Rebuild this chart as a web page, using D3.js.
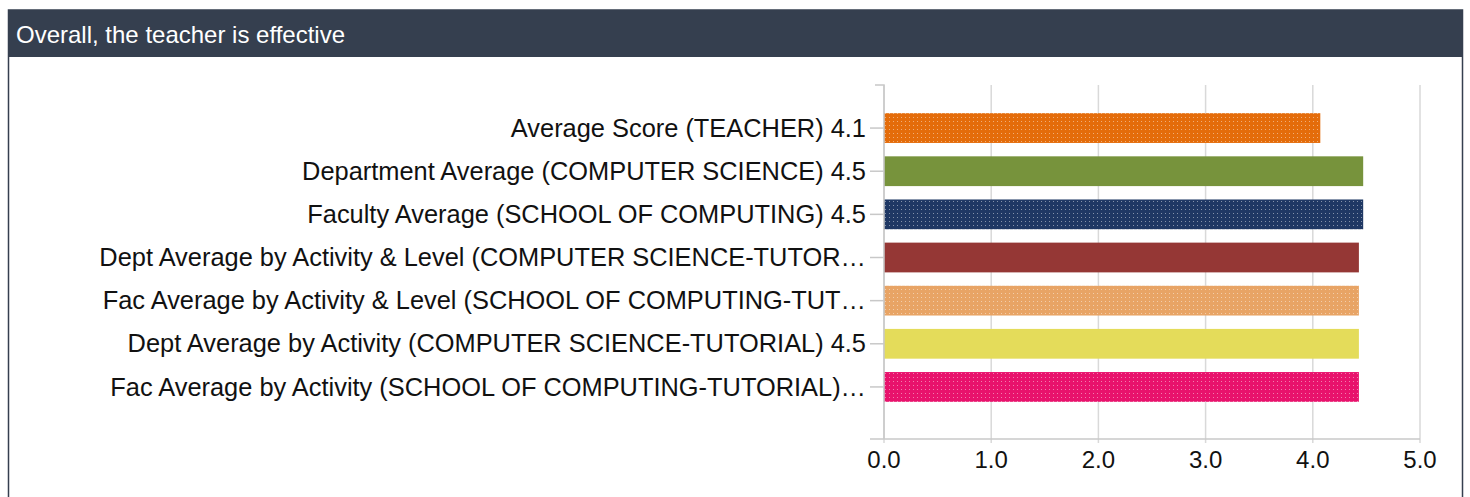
<!DOCTYPE html>
<html>
<head>
<meta charset="utf-8">
<script src="https://cdn.jsdelivr.net/npm/d3@7"></script>
<style>
  body { margin: 0; background: #fff; font-family: "Liberation Sans", Arial, sans-serif; }
</style>
</head>
<body>
<script>
const width = 1470;
const height = 497;

const labels = [
    "Average Score (TEACHER) 4.1",
    "Department Average (COMPUTER SCIENCE) 4.5",
    "Faculty Average (SCHOOL OF COMPUTING) 4.5",
    "Dept Average by Activity & Level (COMPUTER SCIENCE-TUTOR\u2026",
    "Fac Average by Activity & Level (SCHOOL OF COMPUTING-TUT\u2026",
    "Dept Average by Activity (COMPUTER SCIENCE-TUTORIAL) 4.5",
    "Fac Average by Activity (SCHOOL OF COMPUTING-TUTORIAL)\u2026"
];
const values = [4.07, 4.47, 4.47, 4.43, 4.43, 4.43, 4.43];
const colors = ["#e46c0a", "#77933c", "#1f3864", "#953735", "#e8a465", "#e4dc5a", "#e8126c"];
const dotted = [true, false, true, false, true, false, true];
const xTicks = [0, 1, 2, 3, 4, 5];
const title = "Overall, the teacher is effective";

const svg = d3.select("body").append("svg")
    .attr("width", width)
    .attr("height", height);

// panel + header
svg.append("rect")
    .attr("x", 8.5).attr("y", 10)
    .attr("width", 1454).attr("height", height)
    .attr("fill", "#fff")
    .attr("stroke", "#353f4f")
    .attr("stroke-width", 1.5);

svg.append("rect")
    .attr("x", 8).attr("y", 10)
    .attr("width", 1455).attr("height", 47)
    .attr("fill", "#353f4f");

svg.append("text")
    .attr("x", 16)
    .attr("y", 43)
    .attr("fill", "#fff")
    .attr("font-size", "24px")
    .text(title);

// dot patterns
const defs = svg.append("defs");
colors.forEach((c, i) => {
    const p = defs.append("pattern")
        .attr("id", "pat" + i)
        .attr("patternUnits", "userSpaceOnUse")
        .attr("width", 4)
        .attr("height", 4);
    p.append("rect").attr("width", 4).attr("height", 4).attr("fill", c);
    p.append("rect").attr("x", 1).attr("y", 1).attr("width", 1).attr("height", 1)
        .attr("fill", "#fff").attr("opacity", 0.45);
});

const x = d3.scaleLinear()
    .domain([0, 5])
    .range([884, 1420]);

const y = d3.scaleBand()
    .domain(labels)
    .range([106.5, 408.5])
    .paddingInner(0.31)
    .paddingOuter(0.155);

const axisTop = 85;
const axisBottom = 439;

// grid lines
svg.append("g")
    .selectAll("line")
    .data(xTicks)
    .join("line")
    .attr("x1", d => x(d))
    .attr("x2", d => x(d))
    .attr("y1", axisTop)
    .attr("y2", axisBottom + 4)
    .attr("stroke", "#d9d9d9")
    .attr("stroke-width", 1.5);

// bars
svg.append("g")
    .selectAll("rect")
    .data(labels)
    .join("rect")
    .attr("x", x(0))
    .attr("y", d => y(d))
    .attr("width", (d, i) => x(values[i]) - x(0))
    .attr("height", y.bandwidth())
    .attr("fill", (d, i) => dotted[i] ? "url(#pat" + i + ")" : colors[i]);

// y axis
const yAxis = svg.append("g")
    .attr("transform", "translate(" + x(0) + ",0)")
    .call(d3.axisLeft(y).tickSize(14).tickPadding(4));
yAxis.select(".domain").remove();
yAxis.selectAll(".tick line").attr("stroke", "#c8c8c8").attr("stroke-width", 1.5);
yAxis.selectAll(".tick text")
    .attr("font-family", "'Liberation Sans', Arial, sans-serif")
    .attr("font-size", "25.4px")
    .attr("dy", "0.34em")
    .attr("fill", "#111");

svg.append("path")
    .attr("d", "M" + (x(0) - 9) + "," + axisTop + "H" + x(0) + "V" + axisBottom)
    .attr("fill", "none")
    .attr("stroke", "#c8c8c8")
    .attr("stroke-width", 1.5);

// x axis
svg.append("line")
    .attr("x1", 870).attr("x2", x(5))
    .attr("y1", axisBottom).attr("y2", axisBottom)
    .attr("stroke", "#c8c8c8")
    .attr("stroke-width", 1.5);

svg.append("g")
    .selectAll("text")
    .data(xTicks)
    .join("text")
    .attr("x", d => x(d))
    .attr("y", 468)
    .attr("text-anchor", "middle")
    .attr("font-size", "24px")
    .attr("fill", "#111")
    .text(d => d.toFixed(1));
</script>
</body>
</html>
